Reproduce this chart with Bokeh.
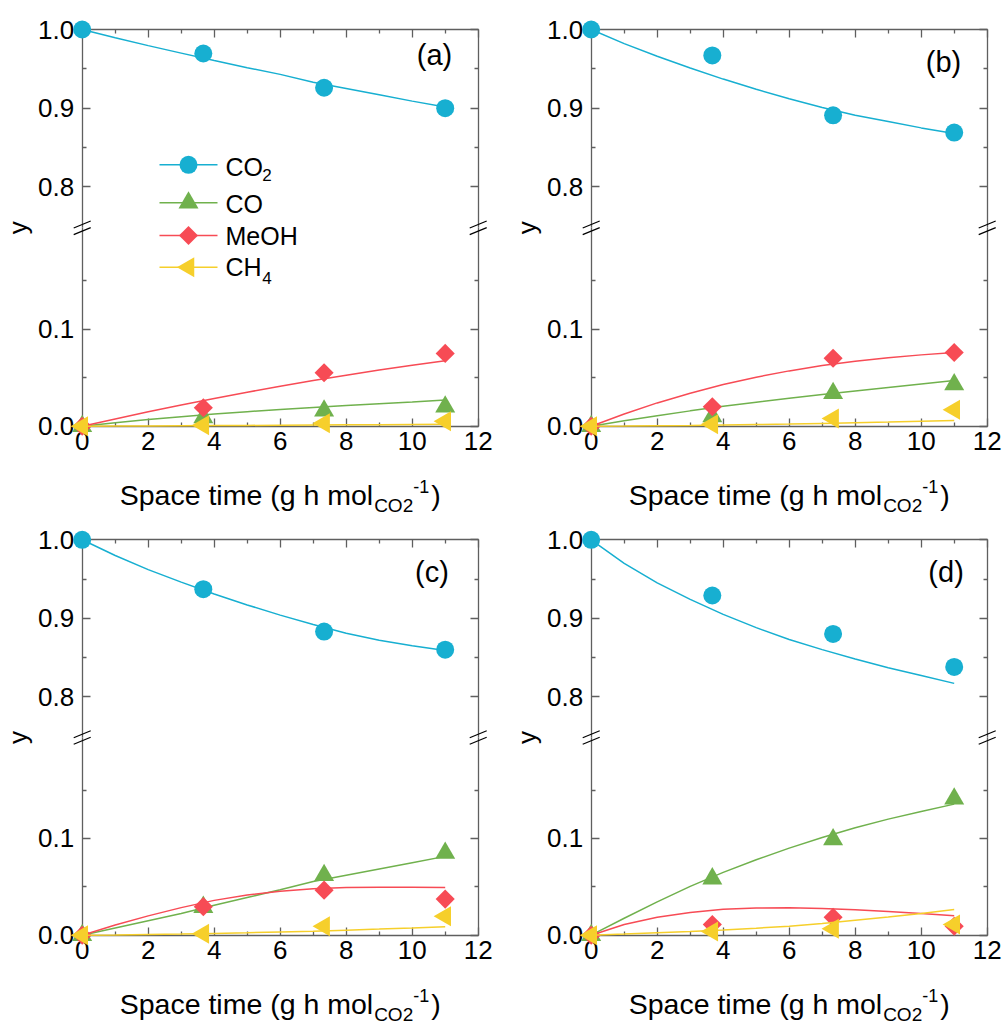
import math
from bokeh.plotting import figure
from bokeh.models import Range1d, LinearAxis, FixedTicker, PrintfTickFormatter, Label
from bokeh.layouts import row, column
from bokeh.embed import file_html
from bokeh.resources import INLINE

# Space time of the measured samples (g h mol_CO2^-1)
SPACE_TIME = [0.0, 3.67, 7.33, 11.0]
# Space time at which the model curves are tabulated
MODEL_TIME = [0, 1, 2, 3, 4, 5, 6, 7, 8, 9, 10, 11]

# legend names: (main text, subscript)
SPECIES = [("CO", "2"), ("CO", ""), ("MeOH", ""), ("CH", "4")]
PANEL_TAGS = ["(a)", "(b)", "(c)", "(d)"]

# ---- panel (a): measured mole fractions and model ----
A_CO2 = [1.000, 0.9695, 0.926, 0.900]
A_CO = [0.0, 0.009, 0.016, 0.020]
A_MEOH = [0.0, 0.019, 0.055, 0.075]
A_CH4 = [0.0, 0.001, 0.003, 0.005]
A_CO2_FIT = [1.0, 0.9895, 0.9795, 0.970, 0.9605, 0.9515, 0.943, 0.933, 0.925, 0.917, 0.909, 0.9015]
A_CO_FIT = [0.0, 0.0035, 0.0068, 0.0098, 0.0125, 0.015, 0.0172, 0.0193, 0.0213, 0.0232, 0.025, 0.027]
A_MEOH_FIT = [0.0, 0.0075, 0.0148, 0.0218, 0.0285, 0.035, 0.0412, 0.047, 0.0525, 0.0578, 0.0628, 0.0675]
A_CH4_FIT = [0.0, 0.0001, 0.0003, 0.0004, 0.0006, 0.0008, 0.001, 0.0012, 0.0014, 0.0016, 0.0018, 0.002]

# ---- panel (b) ----
B_CO2 = [1.000, 0.967, 0.891, 0.869]
B_CO = [0.0, 0.010, 0.034, 0.043]
B_MEOH = [0.0, 0.020, 0.070, 0.076]
B_CH4 = [0.0, 0.002, 0.008, 0.017]
B_CO2_FIT = [1.0, 0.982, 0.966, 0.951, 0.937, 0.924, 0.912, 0.901, 0.891, 0.883, 0.875, 0.868]
B_CO_FIT = [0.0, 0.0055, 0.0108, 0.0158, 0.0205, 0.0248, 0.0288, 0.0326, 0.0362, 0.0398, 0.0434, 0.047]
B_MEOH_FIT = [0.0, 0.0125, 0.024, 0.034, 0.043, 0.0505, 0.057, 0.0625, 0.067, 0.0705, 0.0735, 0.076]
B_CH4_FIT = [0.0, 0.0002, 0.0005, 0.0008, 0.0012, 0.0017, 0.0022, 0.0028, 0.0035, 0.0042, 0.005, 0.0058]

# ---- panel (c) ----
C_CO2 = [1.000, 0.937, 0.883, 0.860]
C_CO = [0.0, 0.029, 0.062, 0.085]
C_MEOH = [0.0, 0.0295, 0.0466, 0.0373]
C_CH4 = [0.0, 0.0015, 0.0093, 0.0195]
C_CO2_FIT = [1.0, 0.980, 0.962, 0.946, 0.931, 0.917, 0.904, 0.892, 0.881, 0.872, 0.865, 0.859]
C_CO_FIT = [0.0, 0.0075, 0.015, 0.0225, 0.031, 0.039, 0.047, 0.0555, 0.062, 0.0685, 0.075, 0.0815]
C_MEOH_FIT = [0.0, 0.0105, 0.020, 0.0285, 0.036, 0.0415, 0.0455, 0.048, 0.0492, 0.0497, 0.0497, 0.0494]
C_CH4_FIT = [0.0, 0.0003, 0.0007, 0.0012, 0.0018, 0.0025, 0.0033, 0.0042, 0.0052, 0.0063, 0.0075, 0.0088]

# ---- panel (d) ----
D_CO2 = [1.000, 0.929, 0.880, 0.838]
D_CO = [0.0, 0.0585, 0.099, 0.141]
D_MEOH = [0.0, 0.011, 0.0185, 0.0093]
D_CH4 = [0.0, 0.0038, 0.0066, 0.011]
D_CO2_FIT = [1.0, 0.970, 0.945, 0.924, 0.905, 0.888, 0.873, 0.860, 0.848, 0.837, 0.827, 0.817]
D_CO_FIT = [0.0, 0.0175, 0.0345, 0.0505, 0.065, 0.078, 0.090, 0.101, 0.111, 0.120, 0.128, 0.1355]
D_MEOH_FIT = [0.0, 0.011, 0.0185, 0.0235, 0.0268, 0.0282, 0.0283, 0.0275, 0.0262, 0.0245, 0.0225, 0.0202]
D_CH4_FIT = [0.0, 0.0012, 0.0025, 0.0039, 0.0055, 0.0073, 0.0093, 0.0122, 0.0155, 0.0188, 0.0225, 0.0265]

# Axis ticks
X_TICKS = [0, 2, 4, 6, 8, 10, 12]
X_MINOR = [1, 3, 5, 7, 9, 11]
LOW_TICKS = [0.0, 0.1]
LOW_MINOR = [0.05, 0.15]
UP_TICKS = [0.8, 0.9, 1.0]
UP_MINOR = [0.85, 0.95]

# broken y axis: lower segment [0, LOW_TOP], upper segment [UP_BOTTOM, 1]
LOW_TOP = 0.2044
UP_BOTTOM = 0.748
X_MAX = 12

FONT = "Liberation Sans"
AXIS_GRAY = "#5f5f5f"
COLORS = ["#17AFD1", "#70B14D", "#F74B55", "#F6CF2B"]
MARKERS = [("circle", 18, 0.0), ("triangle", 20, 0.0),
           ("square", 13.5, math.pi / 4), ("triangle", 20, math.pi / 2)]

PX_PER_X = 33.0
AXIS_LEFT_PX = 81.7
MID = 0.3465  # distance from text middle to baseline, in em


def style_axis(ax, show_labels):
    ax.axis_line_color = AXIS_GRAY
    ax.axis_line_width = 1.3
    ax.major_tick_line_color = AXIS_GRAY
    ax.minor_tick_line_color = AXIS_GRAY
    ax.major_tick_line_width = 1.3
    ax.minor_tick_line_width = 1.3
    ax.major_tick_in = 8
    ax.major_tick_out = 0
    ax.minor_tick_in = 4
    ax.minor_tick_out = 0
    ax.major_label_text_font = FONT
    ax.major_label_text_font_size = "26px"
    ax.major_label_text_color = "black" if show_labels else None
    ax.level = "underlay"


def add_axis(p, side, ticks, minor, bounds, loc, range_name=None, show_labels=False,
             fmt=None, standoff=8):
    kw = {}
    if range_name is not None:
        kw["y_range_name"] = range_name
    ax = LinearAxis(ticker=FixedTicker(ticks=ticks, minor_ticks=minor),
                    bounds=bounds, fixed_location=loc, **kw)
    if fmt is not None:
        ax.formatter = fmt
    ax.major_label_standoff = standoff
    style_axis(ax, show_labels)
    p.add_layout(ax, side)
    return ax


def add_text(p, height, text, x, baseline_px, size, align="left", angle=0.0):
    """Place a text by its baseline (pixels from the figure top)."""
    p.add_layout(Label(x=x, y=height - (baseline_px - MID * size), x_units="screen",
                       y_units="screen", text=text, angle=angle, text_align=align,
                       text_baseline="middle", text_font=FONT,
                       text_font_size=f"{size}px", text_color="black"))


def build_panel(idx, meas, fits, width, height, top_px, bot_px, tag_pos, legend=False):
    x0 = -AXIS_LEFT_PX / PX_PER_X
    xr = Range1d(x0, x0 + width / PX_PER_X)
    half = (bot_px - top_px) / 2.0
    k_low = half / LOW_TOP
    k_up = half / (1.0 - UP_BOTTOM)
    ylo = -(height - bot_px) / k_low
    yr = Range1d(ylo, ylo + height / k_low)
    yhi = 1.0 + top_px / k_up
    ur = Range1d(yhi - height / k_up, yhi)

    def sx(px):
        return x0 + px / PX_PER_X

    def sy_up(py):
        return yhi - py / k_up

    p = figure(width=width, height=height, x_range=xr, y_range=yr,
               x_axis_type=None, y_axis_type=None, toolbar_location=None,
               output_backend="svg", min_border=0, outline_line_color=None,
               background_fill_color="white", border_fill_color="white")
    p.extra_y_ranges = {"upper": ur}

    yfmt = PrintfTickFormatter(format="%.1f")
    # lower segment of the broken axis
    add_axis(p, "left", LOW_TICKS, LOW_MINOR, (0, LOW_TOP), 0, show_labels=True, fmt=yfmt)
    add_axis(p, "right", LOW_TICKS, LOW_MINOR, (0, LOW_TOP), X_MAX)
    add_axis(p, "below", X_TICKS, X_MINOR, (0, X_MAX), 0, show_labels=True, standoff=6)
    # upper segment
    add_axis(p, "left", UP_TICKS, UP_MINOR, (UP_BOTTOM, 1.0), 0, range_name="upper",
             show_labels=True, fmt=yfmt)
    add_axis(p, "right", UP_TICKS, UP_MINOR, (UP_BOTTOM, 1.0), X_MAX, range_name="upper")
    add_axis(p, "above", X_TICKS, X_MINOR, (0, X_MAX), 1.0, range_name="upper")

    # break marks: two short slashes across each vertical axis
    dx = 8.5 / PX_PER_X
    dy = 3.5 / k_low
    gap = 3.3 / k_low
    for xa in (0, X_MAX):
        p.segment(x0=[xa - dx, xa - dx], y0=[LOW_TOP - gap - dy, LOW_TOP + gap - dy],
                  x1=[xa + dx, xa + dx], y1=[LOW_TOP - gap + dy, LOW_TOP + gap + dy],
                  line_color="black", line_width=1.2)

    for i, (pts, fit) in enumerate(zip(meas, fits)):
        kw = {"y_range_name": "upper"} if i == 0 else {}
        p.line(MODEL_TIME, fit, line_color=COLORS[i], line_width=1.5, **kw)
        mk, size, ang = MARKERS[i]
        p.scatter(SPACE_TIME, pts, marker=mk, size=size, angle=ang,
                  fill_color=COLORS[i], line_color=None, **kw)

    if legend:
        # key rows: marker centre and text baseline (pixels from the top)
        key_y = [164.3, 202.3, 235.0, 266.7]
        text_base = [175.0, 211.7, 244.3, 275.0]
        sub_base = [180.5, None, None, 283.0]
        for i, (main, sub) in enumerate(SPECIES):
            yk = sy_up(key_y[i])
            p.segment(x0=[sx(159)], y0=[yk], x1=[sx(217)], y1=[yk],
                      line_color=COLORS[i], line_width=1.5, y_range_name="upper")
            mk, size, ang = MARKERS[i]
            p.scatter([sx(188)], [yk], marker=mk, size=size, angle=ang,
                      fill_color=COLORS[i], line_color=None, y_range_name="upper")
            add_text(p, height, main, 225, text_base[i], 25)
            if sub:
                add_text(p, height, sub, 225 + 1.47 * 25, sub_base[i], 17)

    # panel tag
    tx, ty = tag_pos
    add_text(p, height, PANEL_TAGS[idx], tx, ty, 29, align="right")

    # y axis title, centred on the break
    p.add_layout(Label(x=17, y=height - (top_px + bot_px) / 2.0, x_units="screen",
                       y_units="screen", text="y", angle=math.pi / 2,
                       text_align="center", text_baseline="middle",
                       text_font=FONT, text_font_size="26px", text_color="black"))

    # x axis title: Space time (g h mol_CO2^-1)
    base = bot_px + 78.3
    main_fs, sub_fs, sup_fs = 28.5, 19, 18
    w_main = 8.892 * main_fs
    w_sub = 2.056 * sub_fs
    w_sup = 0.889 * sup_fs
    w_par = 0.333 * main_fs
    total = w_main + 1 + w_sub + w_sup + 2 + w_par
    start = AXIS_LEFT_PX + X_MAX * PX_PER_X / 2 - total / 2
    add_text(p, height, "Space time (g h mol", start, base, main_fs)
    add_text(p, height, "CO2", start + w_main + 1, base + 7.5, sub_fs)
    add_text(p, height, "-1", start + w_main + 1 + w_sub, base - 12, sup_fs)
    add_text(p, height, ")", start + w_main + 1 + w_sub + w_sup + 2, base, main_fs)
    return p


W1, W2 = 509, 494
H1, H2 = 516, 508

# tag positions: (right edge, baseline) in pixels within each panel
pa = build_panel(0, [A_CO2, A_CO, A_MEOH, A_CH4], [A_CO2_FIT, A_CO_FIT, A_MEOH_FIT, A_CH4_FIT],
                 W1, H1, 29.0, 425.7, (451.7, 65.0), legend=True)
pb = build_panel(1, [B_CO2, B_CO, B_MEOH, B_CH4], [B_CO2_FIT, B_CO_FIT, B_MEOH_FIT, B_CH4_FIT],
                 W2, H1, 29.0, 425.7, (451.7, 72.0))
pc = build_panel(2, [C_CO2, C_CO, C_MEOH, C_CH4], [C_CO2_FIT, C_CO_FIT, C_MEOH_FIT, C_CH4_FIT],
                 W1, H2, 23.3, 418.7, (448.3, 65.5))
pd = build_panel(3, [D_CO2, D_CO, D_MEOH, D_CH4], [D_CO2_FIT, D_CO_FIT, D_MEOH_FIT, D_CH4_FIT],
                 W2, H2, 23.3, 418.7, (454.3, 65.5))

layout = column(row(pa, pb), row(pc, pd))

with open("out.html", "w") as f:
    f.write(file_html(layout, INLINE))
